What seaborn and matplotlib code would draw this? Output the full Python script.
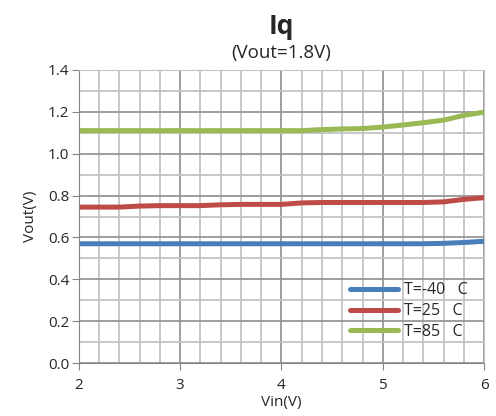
import numpy as np
import pandas as pd
import matplotlib
matplotlib.use('Agg')
import matplotlib.pyplot as plt
import seaborn as sns
from matplotlib.ticker import MultipleLocator

vin = [2.0, 2.2, 2.4, 2.6, 2.8, 3.0, 3.2, 3.4, 3.6, 3.8, 4.0,
       4.2, 4.4, 4.6, 4.8, 5.0, 5.2, 5.4, 5.6, 5.8, 6.0]
t_m40 = [0.57, 0.57, 0.57, 0.57, 0.57, 0.57, 0.57, 0.57, 0.57, 0.57, 0.57,
         0.57, 0.57, 0.57, 0.57, 0.57, 0.57, 0.57, 0.572, 0.576, 0.582]
t_25 = [0.745, 0.745, 0.745, 0.75, 0.752, 0.752, 0.752, 0.756, 0.758, 0.758, 0.758,
        0.765, 0.767, 0.767, 0.767, 0.767, 0.767, 0.767, 0.77, 0.782, 0.79]
t_85 = [1.11, 1.11, 1.11, 1.11, 1.11, 1.11, 1.11, 1.11, 1.11, 1.11, 1.11,
        1.11, 1.115, 1.118, 1.12, 1.127, 1.137, 1.148, 1.16, 1.183, 1.198]
labels = ['T=-40   C', 'T=25   C', 'T=85   C']
colors = ['#4a7ebb', '#be4b48', '#98b954']

df = pd.DataFrame({'Vin': vin * 3,
                   'Vout': t_m40 + t_25 + t_85,
                   'T': [labels[0]] * len(vin) + [labels[1]] * len(vin) + [labels[2]] * len(vin)})

sns.set_style('white')
plt.rcParams['font.family'] = ['Open Sans', 'DejaVu Sans']

fig = plt.figure(figsize=(4.96, 4.16), dpi=100)
ax = fig.add_axes([0.159, 0.127, 0.817, 0.705])

sns.lineplot(data=df, x='Vin', y='Vout', hue='T', palette=colors, linewidth=3.6, ax=ax)

ax.set_xlim(2, 6)
ax.set_ylim(0, 1.4)
ax.xaxis.set_major_locator(MultipleLocator(1))
ax.xaxis.set_minor_locator(MultipleLocator(0.2))
ax.yaxis.set_major_locator(MultipleLocator(0.2))
ax.yaxis.set_minor_locator(MultipleLocator(0.1))
ax.yaxis.set_major_formatter(matplotlib.ticker.FormatStrFormatter('%.1f'))
ax.grid(which='minor', color='#c4c4c4', linewidth=1.3)
ax.grid(which='major', color='#969696', linewidth=1.3)
ax.set_axisbelow(True)
for s in ax.spines.values():
    s.set_color('#c4c4c4')
ax.spines['left'].set_color('#868686')
ax.spines['bottom'].set_color('#868686')
ax.tick_params(axis='y', which='major', left=True, length=5, color='#868686', labelsize=11, pad=2)
ax.tick_params(axis='x', which='major', bottom=True, length=5, color='#868686', labelsize=11, pad=6)
ax.tick_params(which='minor', length=0)

ax.set_xlabel('Vin(V)', fontsize=11, labelpad=1)
ax.set_ylabel('Vout(V)', fontsize=11, labelpad=7)

fig.text(0.567, 0.918, 'Iq', ha='center', fontsize=19, fontweight='bold')
fig.text(0.567, 0.86, '(Vout=1.8V)', ha='center', fontsize=13.5)

ax.legend(loc='lower right', bbox_to_anchor=(0.995, 0.03), frameon=False, fontsize=11.5,
          handlelength=3.0, handletextpad=0.4, labelspacing=0.3)

fig.savefig('out.png', dpi=100)
